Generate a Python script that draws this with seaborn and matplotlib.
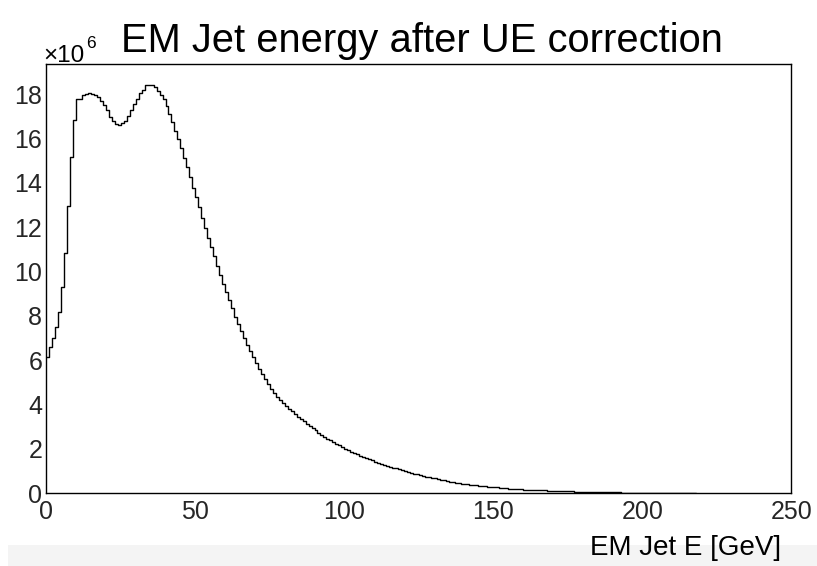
import numpy as np
import pandas as pd
import seaborn as sns
import matplotlib
matplotlib.use("Agg")
import matplotlib.pyplot as plt
from matplotlib.ticker import MultipleLocator
from matplotlib.patches import Rectangle

# ---- data (bin contents in units of 10^6, 1 GeV bins starting at 0) ----
bin_width = 1.0
counts_millions = [
    6.17, 6.60, 7.00, 7.48, 8.18, 9.30, 10.85, 12.98, 15.18, 16.84,
    17.77, 17.80, 17.98, 18.03, 18.04, 18.03, 17.97, 17.88, 17.68, 17.53,
    17.27, 16.97, 16.78, 16.66, 16.60, 16.70, 16.81, 17.03, 17.27, 17.56,
    17.80, 18.06, 18.21, 18.40, 18.43, 18.43, 18.31, 18.16, 17.98, 17.77,
    17.47, 17.10, 16.73, 16.36, 15.98, 15.56, 15.14, 14.70, 14.25, 13.79,
    13.35, 12.90, 12.43, 11.98, 11.53, 11.11, 10.70, 10.27, 9.85, 9.46,
    9.08, 8.71, 8.34, 7.97, 7.64, 7.30, 6.99, 6.69, 6.40, 6.13,
    5.86, 5.61, 5.38, 5.15, 4.93, 4.72, 4.53, 4.35, 4.20, 4.07,
    3.94, 3.81, 3.69, 3.57, 3.46, 3.35, 3.24, 3.14, 3.04, 2.94,
    2.84, 2.74, 2.64, 2.55, 2.47, 2.39, 2.31, 2.23, 2.16, 2.09,
    2.02, 1.95, 1.88, 1.82, 1.76, 1.70, 1.64, 1.59, 1.53, 1.48,
    1.43, 1.38, 1.33, 1.29, 1.24, 1.20, 1.16, 1.12, 1.08, 1.04,
    1.00, 0.97, 0.93, 0.89, 0.85, 0.81, 0.78, 0.75, 0.72, 0.69,
    0.67, 0.64, 0.61, 0.58, 0.55, 0.52, 0.50, 0.48, 0.46, 0.44,
    0.42, 0.40, 0.385, 0.37, 0.355, 0.34, 0.325, 0.31, 0.30, 0.29,
    0.28, 0.265, 0.25, 0.24, 0.225, 0.215, 0.205, 0.195, 0.185, 0.178,
    0.17, 0.163, 0.157, 0.151, 0.145, 0.139, 0.133, 0.127, 0.121, 0.116,
    0.111, 0.106, 0.101, 0.097, 0.093, 0.089, 0.085, 0.081, 0.077, 0.073,
    0.069, 0.066, 0.062, 0.059, 0.056, 0.053, 0.050, 0.047, 0.045, 0.043,
    0.041, 0.039, 0.037, 0.035, 0.033, 0.031, 0.030, 0.028, 0.027, 0.025,
    0.024, 0.023, 0.022, 0.021, 0.020, 0.019, 0.018, 0.017, 0.016, 0.015,
    0.014, 0.013, 0.012, 0.011, 0.010, 0.009, 0.008, 0.007,
]
x_ticks = [0, 50, 100, 150, 200, 250]
y_ticks = [0, 2, 4, 6, 8, 10, 12, 14, 16, 18]
title = "EM Jet energy after UE correction"
x_label = "EM Jet E [GeV]"
y_scale_base = "\u00d710"
y_scale_exp = "6"

n = len(counts_millions)
edges = [i * bin_width for i in range(n + 1)]
centers = [e + bin_width / 2 for e in edges[:-1]]
df = pd.DataFrame({"E": centers, "w": counts_millions})

# ---- style ----
sns.set_style("white")
plt.rcParams["font.family"] = ["Liberation Sans", "DejaVu Sans"]

W, H = 817, 566
fig = plt.figure(figsize=(W / 100, H / 100), dpi=100)
fig.patch.set_facecolor("white")

# light grey strip at the bottom of the screenshot
fig.add_artist(Rectangle((8 / W, 0), 1 - 8 / W, (H - 545) / H,
                         transform=fig.transFigure, color="#f4f4f4",
                         zorder=0, lw=0))

left, right = 46.3 / W, 791.3 / W
bottom, top = 1 - 493.3 / H, 1 - 64.3 / H
ax = fig.add_axes([left, bottom, right - left, top - bottom])
ax.set_facecolor("white")

sns.histplot(data=df, x="E", weights="w", bins=edges, element="step",
             fill=False, color="black", linewidth=1.0, ax=ax)

ax.set_xlim(0, 250)
ax.set_ylim(0, 19.35)
ax.set_xticks(x_ticks)
ax.set_yticks(y_ticks)
ax.set_xticklabels([str(t) for t in x_ticks])
ax.set_yticklabels([str(t) for t in y_ticks])
ax.xaxis.set_minor_locator(MultipleLocator(10))
ax.yaxis.set_minor_locator(MultipleLocator(0.5))
ax.set_xlabel("")
ax.set_ylabel("")

ax.tick_params(axis="both", which="both", direction="in", color="black",
               width=1.0, top=False, right=False, labelsize=18)
ax.tick_params(axis="x", which="major", length=13 * 0.72, pad=5)
ax.tick_params(axis="x", which="minor", length=6.5 * 0.72)
ax.tick_params(axis="y", which="major", length=22 * 0.72, pad=3)
ax.tick_params(axis="y", which="minor", length=11 * 0.72)

for s in ax.spines.values():
    s.set_visible(True)
    s.set_color("black")
    s.set_linewidth(1.0)

fig.text(422 / W, 1 - 51.7 / H, title, ha="center", va="baseline",
         fontsize=28.7, color="black")
fig.text(43 / W, 1 - 61.7 / H, y_scale_base, ha="left", va="baseline",
         fontsize=17.5, color="black")
fig.text(86 / W, 1 - 48.5 / H, y_scale_exp, ha="left", va="baseline",
         fontsize=12.5, color="black")
fig.text(781 / W, 1 - 555 / H, x_label, ha="right", va="baseline",
         fontsize=20, color="black")

fig.savefig("out.png", dpi=100, facecolor="white")
